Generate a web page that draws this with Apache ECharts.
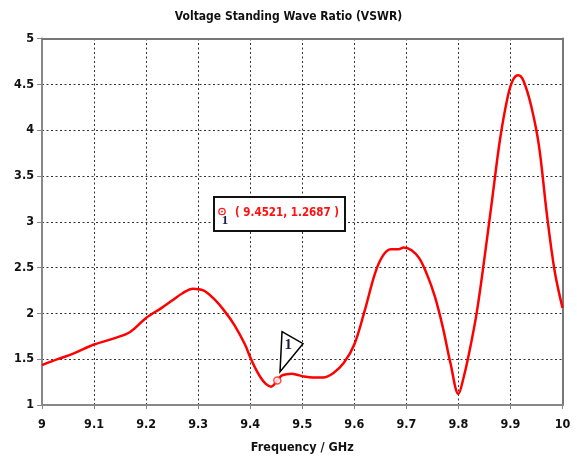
<!DOCTYPE html>
<html>
<head>
<meta charset="utf-8">
<script src="https://cdn.jsdelivr.net/npm/echarts@6/dist/echarts.min.js"></script>
<style>html,body{margin:0;padding:0;background:#fff;}#c{width:577px;height:459px;}</style>
</head>
<body>
<div id="c"></div>
<script>
var freq = [9.00, 9.03, 9.06, 9.10, 9.14, 9.17, 9.20, 9.23, 9.25, 9.27, 9.29, 9.31, 9.33, 9.35, 9.37, 9.39, 9.40, 9.41, 9.42, 9.43, 9.44, 9.4521, 9.46, 9.47, 9.48, 9.49, 9.50, 9.52, 9.54, 9.56, 9.58, 9.60, 9.62, 9.64, 9.655, 9.67, 9.685, 9.695, 9.71, 9.725, 9.74, 9.755, 9.77, 9.785, 9.80, 9.81, 9.82, 9.835, 9.85, 9.865, 9.88, 9.895, 9.905, 9.915, 9.925, 9.94, 9.955, 9.97, 9.985, 10.0];
var vswr = [1.435, 1.50, 1.56, 1.66, 1.73, 1.80, 1.95, 2.06, 2.14, 2.22, 2.27, 2.25, 2.16, 2.03, 1.87, 1.66, 1.52, 1.40, 1.30, 1.23, 1.20, 1.2687, 1.32, 1.335, 1.34, 1.33, 1.315, 1.30, 1.30, 1.35, 1.46, 1.66, 2.03, 2.44, 2.63, 2.70, 2.70, 2.72, 2.69, 2.60, 2.42, 2.18, 1.85, 1.45, 1.12, 1.30, 1.55, 2.00, 2.60, 3.25, 3.90, 4.37, 4.55, 4.60, 4.54, 4.26, 3.82, 3.08, 2.46, 2.06];
var markerPoint = [9.4521, 1.2687];
var markerLabel = '( 9.4521, 1.2687 )';
var xTicks = ['9','9.1','9.2','9.3','9.4','9.5','9.6','9.7','9.8','9.9','10'];
var yTicks = ['1','1.5','2','2.5','3','3.5','4','4.5','5'];
var titleText = 'Voltage Standing Wave Ratio (VSWR)';
var xName = 'Frequency / GHz';

var FONT = 'DejaVu Sans Condensed';
var chart = echarts.init(document.getElementById('c'), null, {renderer: 'canvas'});
var data = freq.map(function (f, i) { return [f, vswr[i]]; });
var gridLine = {show: true, lineStyle: {color: '#333', type: [2, 2.5], width: 1}};
var lbl = {fontFamily: FONT, fontWeight: 'bold', fontSize: 12.5, color: '#111'};

chart.setOption({
  animation: false,
  title: {text: titleText, left: 'center', top: 6,
    textStyle: {fontFamily: FONT, fontWeight: 'bold', fontSize: 12, color: '#111'}},
  grid: {left: 42, right: 14.5, top: 38.5, bottom: 52.5},
  xAxis: [{
    type: 'value', min: 9, max: 10, interval: 0.1,
    name: xName, nameLocation: 'middle', nameGap: 36,
    nameTextStyle: lbl,
    axisLine: {show: true, lineStyle: {color: '#888', width: 2}},
    axisTick: {show: true, length: 4, lineStyle: {color: '#888', width: 1}},
    axisLabel: Object.assign({margin: 13, formatter: function (v) { return xTicks[Math.round((v - 9) * 10)]; }}, lbl),
    splitLine: gridLine
  }, {
    type: 'value', min: 9, max: 10, position: 'top',
    axisLine: {show: true, onZero: false, lineStyle: {color: '#777', width: 2}},
    axisTick: {show: false}, axisLabel: {show: false}, splitLine: {show: false}
  }],
  yAxis: [{
    type: 'value', min: 1, max: 5, interval: 0.5,
    axisLine: {show: true, lineStyle: {color: '#888', width: 2}},
    axisTick: {show: true, length: 5, lineStyle: {color: '#888', width: 1}},
    axisLabel: Object.assign({margin: 8, formatter: function (v) { return yTicks[Math.round((v - 1) * 2)]; }}, lbl),
    splitLine: gridLine
  }, {
    type: 'value', min: 1, max: 5, position: 'right',
    axisLine: {show: true, onZero: false, lineStyle: {color: '#777', width: 2}},
    axisTick: {show: false}, axisLabel: {show: false}, splitLine: {show: false}
  }],
  series: [{
    type: 'line', data: data, smooth: 0.35, symbol: 'none',
    lineStyle: {color: '#ff0000', width: 2.5}, z: 3
  }, {
    type: 'scatter', data: [markerPoint], symbol: 'circle', symbolSize: 7,
    itemStyle: {color: '#fff', borderColor: '#ff2020', borderWidth: 1.5}, z: 5
  }]
});

var p = chart.convertToPixel({gridIndex: 0}, markerPoint);
var bx = 214, by = 197, bw = 131, bh = 34;
chart.setOption({
  graphic: [
    {type: 'polygon', z: 10, shape: {points: [[p[0] + 4.7, p[1] - 48.7], [p[0] + 25.7, p[1] - 36.7], [p[0] + 2.7, p[1] - 8.7]]},
      style: {fill: '#fff', stroke: '#000', lineWidth: 1.5}},
    {type: 'text', z: 11, x: p[0] + 11, y: p[1] - 35, style: {text: '1', fill: '#1a1a3a', font: 'bold 15px "Liberation Serif"', textAlign: 'center', textVerticalAlign: 'middle'}},
    {type: 'rect', z: 10, shape: {x: bx, y: by, width: bw, height: bh}, style: {fill: '#fff', stroke: '#111', lineWidth: 2}},
    {type: 'circle', z: 11, shape: {cx: bx + 8, cy: by + 14.5, r: 3.2}, style: {fill: 'none', stroke: '#ff2020', lineWidth: 1.3}},
    {type: 'circle', z: 11, shape: {cx: bx + 8, cy: by + 14.5, r: 0.9}, style: {fill: '#ff2020'}},
    {type: 'text', z: 11, x: bx + 11, y: by + 24, style: {text: '1', fill: '#1a1a4a', font: 'bold 13px "Liberation Serif"', textAlign: 'center', textVerticalAlign: 'middle'}},
    {type: 'text', z: 11, x: bx + 21, y: by + 16, style: {text: markerLabel, fill: '#ff1010', font: 'bold 11.5px "' + FONT + '"', textAlign: 'left', textVerticalAlign: 'middle'}}
  ]
});
</script>
</body>
</html>
